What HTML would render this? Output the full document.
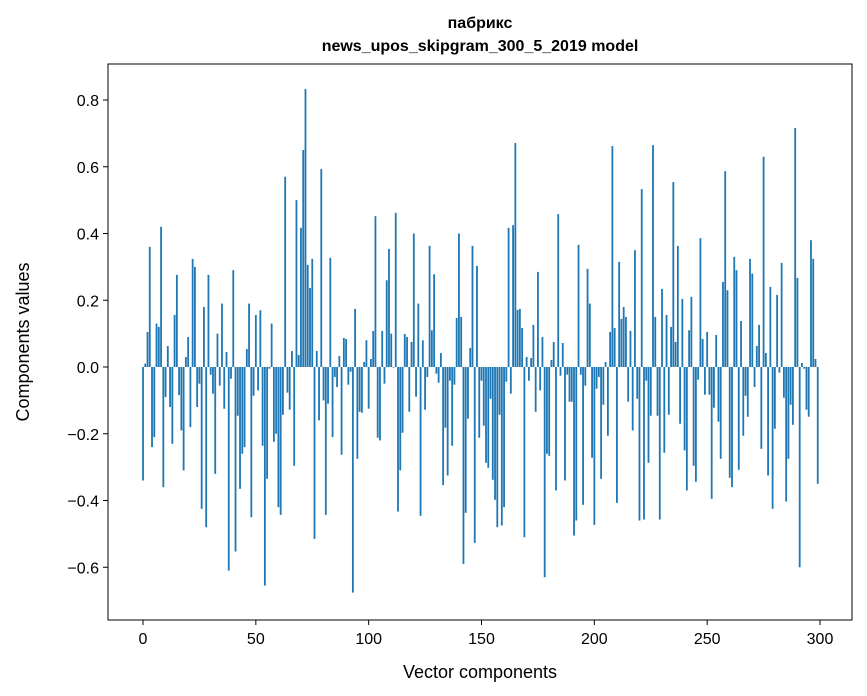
<!DOCTYPE html>
<html><head><meta charset="utf-8"><style>
html,body{margin:0;padding:0;background:#fff;}
svg{display:block;font-family:"Liberation Sans","DejaVu Sans",sans-serif;}
</style></head><body>
<svg id="chart" width="867" height="696" viewBox="0 0 867 696" xmlns="http://www.w3.org/2000/svg">
<rect width="867" height="696" fill="#fff"/>
<text x="480" y="28" text-anchor="middle" font-size="16" font-weight="bold">пабрикс</text>
<text x="480" y="51" text-anchor="middle" font-size="16" font-weight="bold">news_upos_skipgram_300_5_2019 model</text>
<g id="bars"></g>
<g id="axes"></g>
<text x="480" y="678" text-anchor="middle" font-size="18">Vector components</text>
<text transform="translate(29,342) rotate(-90)" text-anchor="middle" font-size="18">Components values</text>
</svg>
<script>
const values = [
-0.34,0.01,0.105,0.36,-0.24,-0.21,0.13,0.12,0.42,-0.36,
-0.09,0.063,-0.12,-0.23,0.156,0.276,-0.084,-0.19,-0.31,0.03,
0.09,-0.18,0.324,0.30,-0.12,-0.05,-0.425,0.18,-0.48,0.276,
-0.023,-0.08,-0.32,0.10,-0.056,0.19,-0.125,0.045,-0.61,-0.035,
0.29,-0.553,-0.146,-0.365,-0.26,-0.24,0.054,0.19,-0.45,-0.086,
0.156,-0.07,0.17,-0.236,-0.655,-0.335,-0.005,0.13,-0.224,-0.2,
-0.42,-0.443,-0.143,0.57,-0.077,-0.128,0.048,-0.296,0.50,0.036,
0.417,0.65,0.833,0.306,0.237,0.324,-0.515,0.048,-0.16,0.593,
-0.10,-0.443,-0.11,0.327,-0.21,-0.03,-0.06,0.033,-0.263,0.087,
0.084,-0.053,-0.014,-0.676,0.174,-0.275,-0.134,-0.137,0.015,0.08,
-0.125,0.024,0.108,0.452,-0.212,-0.22,0.108,-0.05,0.26,0.354,
0.10,-0.002,0.462,-0.433,-0.31,-0.197,0.099,0.09,-0.134,0.075,
0.40,-0.089,0.19,-0.446,0.08,-0.128,-0.03,0.363,0.11,0.278,
-0.02,-0.047,0.042,-0.354,-0.182,-0.325,-0.041,-0.236,-0.053,0.147,
0.40,0.15,-0.59,-0.437,-0.155,0.057,0.363,-0.527,0.303,-0.212,
-0.041,-0.176,-0.287,-0.302,-0.095,-0.338,-0.398,-0.48,-0.143,-0.475,
-0.42,-0.044,0.417,-0.08,0.425,0.671,0.171,0.174,0.117,-0.51,
0.03,-0.041,0.027,0.126,-0.134,0.285,-0.07,0.09,-0.63,-0.26,
-0.266,0.021,0.075,-0.37,0.458,-0.026,0.072,-0.34,-0.023,-0.104,
-0.104,-0.505,-0.46,0.366,-0.023,-0.413,-0.056,0.294,0.19,-0.272,
-0.473,-0.065,-0.03,-0.335,-0.113,0.015,-0.206,0.105,0.662,0.117,
-0.407,0.315,0.144,0.18,0.15,-0.104,0.108,-0.19,0.35,-0.095,
-0.46,0.533,-0.457,-0.041,-0.287,-0.146,0.665,0.15,-0.146,-0.457,
0.234,-0.257,0.156,-0.143,0.12,0.554,0.075,0.363,-0.17,0.204,
-0.25,-0.37,0.11,0.21,-0.296,-0.344,-0.038,0.386,0.084,-0.083,
0.105,-0.083,-0.395,-0.122,0.096,-0.164,-0.275,0.255,0.587,0.23,
-0.332,-0.36,0.33,0.29,-0.308,0.138,-0.206,-0.086,-0.149,0.324,
0.28,-0.06,0.063,0.126,-0.245,0.63,0.042,-0.325,0.24,-0.425,
-0.185,0.216,-0.017,0.312,-0.092,-0.403,-0.275,-0.113,-0.173,0.716,
0.267,-0.60,0.012,-0.005,-0.128,-0.149,0.38,0.324,0.024,-0.35
];
const xTicks = [0,50,100,150,200,250,300];
const yTicks = [-0.6,-0.4,-0.2,0.0,0.2,0.4,0.6,0.8];
const yTickLabels = ["−0.6","−0.4","−0.2","0.0","0.2","0.4","0.6","0.8"];

const L=108,R=852,T=64,B=620;
const X0=143, XS=(820-143)/300;
const Y0=367, YS=333.75;
const xs=v=>X0+v*XS;
const ys=v=>Y0-v*YS;
const NS="http://www.w3.org/2000/svg";
const bars=document.getElementById('bars');
const axes=document.getElementById('axes');
const bw=0.8*XS;
values.forEach((v,i)=>{
  const r=document.createElementNS(NS,'rect');
  const y1=ys(Math.max(v,0)), y2=ys(Math.min(v,0));
  r.setAttribute('x',(xs(i)-bw/2).toFixed(2));
  r.setAttribute('y',y1.toFixed(2));
  r.setAttribute('width',bw.toFixed(2));
  r.setAttribute('height',Math.max(y2-y1,0.3).toFixed(2));
  r.setAttribute('fill','#1f77b4');
  
  
  bars.appendChild(r);
});
const frame=document.createElementNS(NS,'rect');
frame.setAttribute('x',L);frame.setAttribute('y',T);
frame.setAttribute('width',R-L);frame.setAttribute('height',B-T);
frame.setAttribute('fill','none');frame.setAttribute('stroke','#000');frame.setAttribute('stroke-width','1');


axes.appendChild(frame);
xTicks.forEach(t=>{
  const x=xs(t);
  const l=document.createElementNS(NS,'line');
  l.setAttribute('x1',x);l.setAttribute('x2',x);l.setAttribute('y1',B);l.setAttribute('y2',B+5);
  l.setAttribute('stroke','#000');
  
  
  axes.appendChild(l);
  const tx=document.createElementNS(NS,'text');
  tx.setAttribute('x',x);tx.setAttribute('y',B+24);tx.setAttribute('text-anchor','middle');tx.setAttribute('font-size','16');
  tx.textContent=t;
  
  
  axes.appendChild(tx);
});
yTicks.forEach((t,i)=>{
  const y=ys(t);
  const l=document.createElementNS(NS,'line');
  l.setAttribute('x1',L-5);l.setAttribute('x2',L);l.setAttribute('y1',y);l.setAttribute('y2',y);
  l.setAttribute('stroke','#000');
  
  
  axes.appendChild(l);
  const tx=document.createElementNS(NS,'text');
  tx.setAttribute('x',L-9);tx.setAttribute('y',y+6);tx.setAttribute('text-anchor','end');tx.setAttribute('font-size','16');
  tx.textContent=yTickLabels[i];
  
  
  axes.appendChild(tx);
});
</script>
</body></html>
